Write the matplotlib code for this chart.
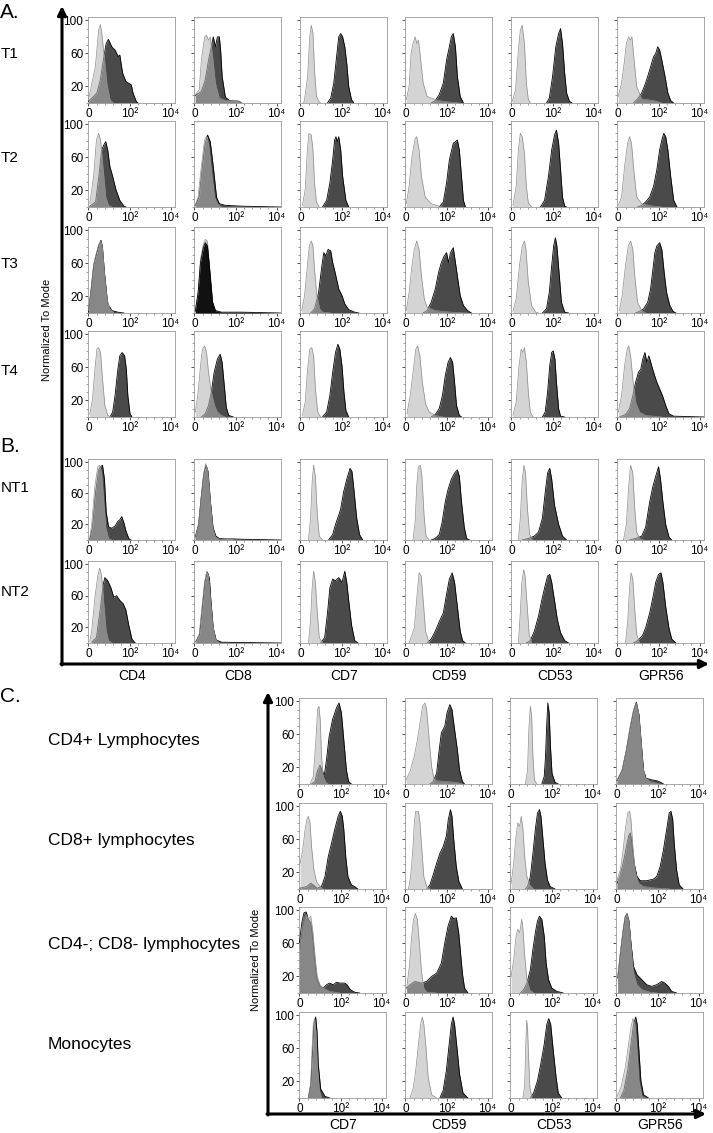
import matplotlib
matplotlib.use("Agg")
import matplotlib.pyplot as plt
from matplotlib.patches import FancyArrowPatch

plt.rcParams['font.family'] = ['Liberation Sans', 'DejaVu Sans']

markers_ab = ["CD4", "CD8", "CD7", "CD59", "CD53", "GPR56"]
rows_ab = ["T1", "T2", "T3", "T4", "NT1", "NT2"]
markers_c = ["CD7", "CD59", "CD53", "GPR56"]
rows_c = ["CD4+ Lymphocytes", "CD8+ lymphocytes", "CD4-; CD8- lymphocytes", "Monocytes"]

x_tick_pos = [0, 1.9, 3.8]
x_tick_labels = ["0", "10²", "10⁴"]
y_ticks = [20, 60, 100]

# histogram outlines: (display position, % of mode)
# one curve per marker column, isotype control and stained sample
T1_iso = [
    [(0, 4), (0.32, 44), (0.47, 88), (0.55, 95), (0.62, 84), (0.73, 56), (0.85, 24), (1.0, 4), (1.15, 0)],
    [(0.04, 10), (0.22, 16), (0.32, 52), (0.47, 80), (0.56, 82), (0.65, 76), (0.73, 80), (0.84, 56), (0.97, 24), (1.15, 6), (1.43, 3), (1.99, 3), (2.18, 0)],
    [(0.15, 0), (0.19, 4), (0.33, 32), (0.43, 80), (0.5, 94), (0.58, 84), (0.65, 40), (0.74, 8), (0.87, 1), (0.95, 0)],
    [(0.04, 4), (0.17, 20), (0.26, 60), (0.35, 72), (0.45, 80), (0.52, 72), (0.6, 76), (0.69, 56), (0.82, 24), (1.0, 8), (1.38, 4), (1.75, 2), (2.49, 0)],
    [(0.04, 2), (0.19, 16), (0.32, 64), (0.41, 88), (0.5, 94), (0.6, 72), (0.69, 24), (0.78, 4), (0.87, 0)],
    [(0.04, 8), (0.19, 24), (0.33, 52), (0.41, 72), (0.52, 80), (0.6, 76), (0.67, 80), (0.74, 60), (0.89, 20), (1.12, 5), (1.67, 3), (2.05, 0)],
]
T1_stain = [
    [(0, 2), (0.39, 12), (0.55, 28), (0.7, 54), (0.82, 72), (0.92, 77), (1.08, 68), (1.23, 64), (1.38, 56), (1.45, 58), (1.58, 36), (1.73, 26), (1.98, 22), (2.06, 12), (2.21, 2), (2.29, 0)],
    [(0.04, 9), (0.32, 14), (0.5, 28), (0.65, 52), (0.78, 68), (0.87, 80), (0.97, 68), (1.06, 80), (1.15, 80), (1.21, 64), (1.28, 32), (1.43, 7), (1.62, 3), (2.08, 2), (2.18, 0)],
    [(1.25, 0), (1.4, 6), (1.54, 24), (1.67, 56), (1.77, 80), (1.86, 84), (1.95, 80), (2.05, 68), (2.14, 48), (2.23, 20), (2.36, 4), (2.47, 0)],
    [(1.19, 0), (1.38, 3), (1.56, 10), (1.75, 24), (1.9, 52), (2.03, 68), (2.12, 80), (2.21, 84), (2.31, 68), (2.4, 32), (2.53, 8), (2.68, 0)],
    [(1.62, 0), (1.75, 6), (1.9, 32), (2.05, 68), (2.18, 84), (2.27, 90), (2.36, 72), (2.46, 36), (2.55, 12), (2.68, 2), (2.8, 0)],
    [(0.74, 0), (0.93, 5), (1.12, 12), (1.3, 24), (1.49, 40), (1.67, 56), (1.77, 60), (1.86, 68), (1.95, 64), (2.05, 52), (2.2, 32), (2.33, 12), (2.46, 3), (2.6, 0)],
]
T2_iso = [
    [(0.06, 4), (0.24, 37), (0.37, 81), (0.47, 89), (0.56, 81), (0.67, 49), (0.8, 12), (0.93, 2), (1.08, 0)],
    [(0.04, 2), (0.17, 12), (0.32, 49), (0.47, 81), (0.56, 86), (0.65, 77), (0.78, 45), (0.93, 12), (1.06, 4), (1.25, 0)],
    [(0.09, 2), (0.22, 21), (0.32, 69), (0.39, 89), (0.5, 87), (0.58, 69), (0.65, 29), (0.74, 6), (0.87, 0)],
    [(0.04, 4), (0.17, 25), (0.3, 61), (0.45, 83), (0.52, 85), (0.63, 69), (0.74, 37), (0.91, 12), (1.19, 4), (1.56, 1), (1.75, 0)],
    [(0.07, 2), (0.22, 25), (0.32, 69), (0.41, 89), (0.5, 85), (0.6, 65), (0.69, 25), (0.78, 5), (0.93, 0)],
    [(0.04, 2), (0.19, 12), (0.33, 49), (0.47, 77), (0.56, 85), (0.65, 77), (0.74, 49), (0.89, 12), (1.12, 4), (1.67, 1), (2.05, 0)],
]
T2_stain = [
    [(0.06, 1), (0.33, 6), (0.48, 37), (0.61, 69), (0.71, 75), (0.8, 79), (0.89, 69), (0.99, 49), (1.12, 37), (1.27, 21), (1.45, 8), (1.64, 1), (1.73, 0)],
    [(0.04, 2), (0.22, 12), (0.37, 49), (0.5, 77), (0.61, 87), (0.73, 79), (0.87, 49), (1.02, 12), (1.15, 4), (1.43, 2), (2.18, 1), (3.98, 0)],
    [(1.02, 0), (1.21, 8), (1.36, 29), (1.49, 57), (1.58, 81), (1.64, 85), (1.71, 79), (1.77, 85), (1.86, 69), (1.95, 37), (2.1, 8), (2.23, 0)],
    [(1.56, 0), (1.75, 6), (1.9, 29), (2.03, 57), (2.21, 77), (2.4, 81), (2.49, 69), (2.59, 37), (2.68, 8), (2.77, 0)],
    [(1.34, 0), (1.53, 8), (1.71, 37), (1.86, 69), (1.99, 87), (2.08, 93), (2.18, 77), (2.27, 45), (2.36, 12), (2.46, 1), (2.55, 0)],
    [(0.93, 0), (1.12, 2), (1.3, 6), (1.49, 12), (1.67, 25), (1.82, 45), (1.95, 69), (2.05, 81), (2.14, 89), (2.23, 85), (2.33, 69), (2.46, 37), (2.6, 8), (2.75, 0)],
]
T3_iso = [
    [(0, 3), (0.11, 25), (0.24, 59), (0.37, 73), (0.48, 83), (0.58, 87), (0.65, 77), (0.74, 45), (0.86, 17), (0.99, 5), (1.17, 0)],
    [(0.04, 3), (0.17, 25), (0.28, 65), (0.41, 83), (0.5, 89), (0.6, 87), (0.69, 57), (0.8, 17), (0.93, 3), (1.06, 0)],
    [(0.06, 3), (0.19, 21), (0.32, 57), (0.41, 81), (0.5, 87), (0.58, 81), (0.65, 53), (0.76, 21), (0.89, 5), (1.02, 1), (1.4, 0)],
    [(0.04, 3), (0.17, 25), (0.3, 57), (0.41, 77), (0.52, 87), (0.63, 77), (0.74, 45), (0.87, 17), (1.0, 7), (1.38, 3), (2.12, 1), (2.87, 0)],
    [(0.07, 2), (0.22, 17), (0.37, 57), (0.5, 81), (0.6, 87), (0.67, 77), (0.78, 37), (0.93, 9), (1.12, 1), (1.25, 0)],
    [(0.09, 3), (0.22, 21), (0.37, 57), (0.5, 81), (0.61, 87), (0.71, 77), (0.8, 45), (0.93, 13), (1.12, 3), (1.3, 0)],
]
T3_stain = [
    [(0, 1), (0.11, 25), (0.24, 57), (0.37, 71), (0.48, 82), (0.58, 88), (0.65, 79), (0.74, 49), (0.89, 11), (1.08, 3), (1.36, 1), (1.64, 0)],
    [(0.04, 2), (0.17, 25), (0.28, 61), (0.41, 79), (0.5, 85), (0.6, 81), (0.69, 57), (0.84, 13), (0.97, 3), (1.25, 1), (2.18, 1), (3.98, 0)],
    [(0.47, 0), (0.65, 5), (0.84, 25), (0.99, 57), (1.08, 73), (1.17, 69), (1.28, 77), (1.4, 75), (1.49, 61), (1.62, 47), (1.77, 29), (1.92, 21), (2.05, 11), (2.23, 4), (2.51, 1), (2.7, 0)],
    [(0.82, 0), (1.0, 3), (1.19, 13), (1.38, 29), (1.53, 49), (1.66, 61), (1.79, 69), (1.9, 73), (1.99, 61), (2.08, 73), (2.21, 79), (2.31, 61), (2.42, 41), (2.53, 21), (2.68, 9), (2.87, 3), (3.05, 0)],
    [(1.43, 0), (1.62, 5), (1.75, 25), (1.86, 57), (1.95, 81), (2.03, 91), (2.1, 81), (2.2, 49), (2.31, 13), (2.46, 1), (2.64, 0)],
    [(0.84, 0), (1.02, 2), (1.21, 5), (1.4, 13), (1.53, 29), (1.64, 53), (1.73, 73), (1.82, 81), (1.95, 85), (2.05, 77), (2.16, 49), (2.27, 25), (2.42, 9), (2.57, 2), (2.7, 0)],
]
T4_iso = [
    [(0.06, 3), (0.19, 22), (0.3, 58), (0.39, 82), (0.47, 84), (0.56, 78), (0.65, 46), (0.76, 14), (0.89, 2), (1.04, 0)],
    [(0.04, 6), (0.17, 30), (0.28, 62), (0.37, 82), (0.47, 86), (0.56, 78), (0.65, 54), (0.78, 30), (0.93, 14), (1.06, 6), (1.25, 2), (1.43, 0)],
    [(0.09, 2), (0.22, 18), (0.33, 58), (0.43, 82), (0.52, 84), (0.61, 74), (0.69, 34), (0.8, 6), (0.93, 0)],
    [(0.07, 4), (0.22, 26), (0.37, 58), (0.48, 82), (0.56, 86), (0.67, 74), (0.78, 42), (0.93, 16), (1.1, 6), (1.38, 2), (1.75, 0)],
    [(0.07, 2), (0.22, 18), (0.35, 62), (0.45, 82), (0.52, 78), (0.6, 84), (0.69, 66), (0.78, 30), (0.87, 6), (1.0, 0)],
    [(0.04, 6), (0.19, 26), (0.33, 62), (0.45, 82), (0.52, 86), (0.61, 74), (0.71, 46), (0.84, 18), (1.02, 6), (1.3, 2), (2.05, 0)],
]
T4_stain = [
    [(0.99, 0), (1.12, 6), (1.23, 26), (1.36, 58), (1.45, 74), (1.56, 78), (1.67, 74), (1.75, 58), (1.82, 26), (1.92, 4), (2.01, 0)],
    [(0.32, 0), (0.5, 4), (0.65, 14), (0.78, 30), (0.91, 54), (1.06, 70), (1.19, 76), (1.28, 66), (1.38, 38), (1.47, 12), (1.58, 2), (1.8, 0)],
    [(1.02, 0), (1.21, 6), (1.36, 26), (1.49, 54), (1.62, 78), (1.73, 88), (1.82, 82), (1.92, 62), (2.01, 30), (2.1, 8), (2.23, 0)],
    [(1.19, 0), (1.38, 3), (1.56, 10), (1.71, 26), (1.84, 50), (1.97, 66), (2.08, 72), (2.18, 66), (2.27, 42), (2.36, 14), (2.49, 2), (2.59, 0)],
    [(1.43, 0), (1.56, 6), (1.67, 30), (1.77, 62), (1.86, 78), (1.93, 80), (2.01, 70), (2.08, 42), (2.18, 10), (2.27, 1), (2.46, 0)],
    [(0.09, 0), (0.37, 3), (0.56, 10), (0.71, 26), (0.84, 42), (0.97, 54), (1.08, 58), (1.17, 70), (1.27, 78), (1.36, 66), (1.45, 74), (1.54, 66), (1.67, 54), (1.82, 42), (1.95, 34), (2.08, 26), (2.23, 14), (2.38, 4), (2.6, 1), (4.0, 0)],
]
NT1_iso = [
    [(0.06, 2), (0.15, 20), (0.3, 69), (0.43, 94), (0.52, 96), (0.61, 86), (0.71, 49), (0.8, 16), (0.93, 2), (1.08, 0)],
    [(0.04, 2), (0.19, 20), (0.32, 57), (0.43, 86), (0.52, 98), (0.61, 90), (0.73, 49), (0.84, 16), (0.97, 4), (1.15, 1), (1.43, 2), (1.66, 2), (1.8, 0)],
    [(0.37, 0), (0.47, 28), (0.54, 74), (0.61, 96), (0.69, 82), (0.78, 32), (0.87, 5), (1.02, 0)],
    [(0.35, 0), (0.45, 24), (0.52, 69), (0.6, 94), (0.69, 96), (0.76, 82), (0.86, 32), (0.95, 5), (1.1, 0)],
    [(0.32, 0), (0.41, 28), (0.5, 78), (0.58, 96), (0.65, 86), (0.74, 40), (0.84, 7), (0.97, 0)],
    [(0.28, 0), (0.41, 20), (0.52, 69), (0.61, 96), (0.71, 86), (0.8, 40), (0.89, 10), (1.02, 2), (1.21, 0)],
]
NT1_stain = [
    [(0.06, 1), (0.19, 16), (0.33, 61), (0.47, 90), (0.56, 94), (0.65, 96), (0.74, 78), (0.82, 36), (0.93, 17), (1.08, 15), (1.23, 18), (1.36, 24), (1.45, 26), (1.54, 30), (1.64, 22), (1.73, 12), (1.86, 2), (1.97, 0)],
    [(0.04, 4), (0.19, 20), (0.32, 57), (0.43, 84), (0.54, 96), (0.63, 88), (0.74, 49), (0.86, 16), (0.99, 5), (1.15, 2), (2.18, 1), (3.98, 0)],
    [(1.3, 0), (1.49, 7), (1.62, 20), (1.77, 32), (1.86, 40), (1.99, 61), (2.14, 78), (2.29, 92), (2.38, 88), (2.47, 65), (2.6, 28), (2.73, 7), (2.88, 0)],
    [(1.19, 0), (1.38, 2), (1.56, 7), (1.69, 22), (1.84, 49), (1.97, 65), (2.12, 78), (2.27, 86), (2.4, 90), (2.49, 82), (2.59, 49), (2.72, 16), (2.83, 2), (2.96, 0)],
    [(0.5, 0), (0.78, 2), (1.06, 5), (1.25, 10), (1.43, 28), (1.56, 61), (1.67, 86), (1.77, 92), (1.86, 78), (1.99, 45), (2.18, 20), (2.36, 5), (2.55, 0)],
    [(0.56, 0), (0.84, 2), (1.12, 5), (1.3, 16), (1.49, 49), (1.64, 69), (1.77, 82), (1.9, 94), (1.99, 78), (2.1, 49), (2.23, 20), (2.38, 4), (2.51, 0)],
]
NT2_iso = [
    [(0.06, 2), (0.15, 15), (0.3, 58), (0.43, 85), (0.52, 95), (0.61, 85), (0.71, 50), (0.82, 15), (0.93, 3), (1.08, 0)],
    [(0.04, 1), (0.22, 11), (0.35, 46), (0.47, 77), (0.56, 91), (0.65, 85), (0.73, 58), (0.84, 23), (0.97, 5), (1.15, 0)],
    [(0.37, 0), (0.47, 30), (0.54, 70), (0.61, 91), (0.69, 77), (0.78, 38), (0.87, 7), (1.02, 0)],
    [(0.17, 0), (0.41, 19), (0.54, 62), (0.63, 89), (0.73, 85), (0.82, 54), (0.93, 15), (1.1, 0)],
    [(0.32, 0), (0.41, 38), (0.48, 77), (0.57, 93), (0.63, 85), (0.73, 46), (0.82, 11), (0.93, 0)],
    [(0.37, 0), (0.48, 30), (0.56, 70), (0.63, 89), (0.71, 81), (0.8, 42), (0.89, 11), (1.02, 0)],
]
NT2_stain = [
    [(0.15, 1), (0.37, 7), (0.56, 46), (0.67, 73), (0.76, 83), (0.89, 79), (1.04, 70), (1.17, 58), (1.3, 60), (1.45, 54), (1.6, 50), (1.73, 42), (1.86, 23), (2.01, 5), (2.16, 0)],
    [(0.07, 2), (0.24, 11), (0.37, 46), (0.48, 77), (0.6, 90), (0.69, 82), (0.76, 54), (0.87, 19), (1.0, 4), (1.25, 1), (3.98, 0)],
    [(0.93, 0), (1.12, 7), (1.25, 38), (1.36, 70), (1.49, 81), (1.62, 79), (1.77, 83), (1.92, 77), (2.05, 91), (2.14, 77), (2.23, 54), (2.36, 23), (2.51, 3), (2.66, 0)],
    [(1.0, 0), (1.19, 5), (1.38, 15), (1.56, 27), (1.75, 38), (1.9, 62), (2.03, 81), (2.16, 89), (2.27, 77), (2.4, 46), (2.53, 15), (2.64, 3), (2.77, 0)],
    [(0.69, 0), (0.87, 3), (1.06, 15), (1.25, 34), (1.43, 58), (1.56, 73), (1.67, 85), (1.77, 87), (1.86, 77), (1.99, 54), (2.12, 30), (2.27, 13), (2.46, 3), (2.64, 0)],
    [(0.74, 0), (0.93, 3), (1.15, 9), (1.3, 19), (1.49, 38), (1.64, 58), (1.77, 77), (1.9, 87), (2.01, 89), (2.1, 77), (2.23, 46), (2.38, 19), (2.51, 5), (2.7, 0)],
]

CD4pos_iso = [
    [(0.49, 0), (0.64, 9), (0.76, 53), (0.84, 90), (0.9, 94), (0.96, 78), (1.02, 33), (1.1, 9), (1.22, 2), (1.33, 0)],
    [(0.03, 5), (0.21, 15), (0.4, 33), (0.55, 53), (0.7, 78), (0.79, 94), (0.9, 98), (0.98, 90), (1.1, 53), (1.21, 21), (1.31, 7), (1.44, 4), (1.89, 3), (2.35, 2), (2.66, 0)],
    [(0.69, 0), (0.79, 17), (0.85, 66), (0.92, 94), (0.98, 82), (1.04, 33), (1.11, 5), (1.22, 0)],
    [(0.03, 5), (0.26, 17), (0.46, 41), (0.61, 66), (0.79, 90), (0.92, 98), (1.02, 86), (1.13, 53), (1.22, 21), (1.33, 8), (1.56, 3), (1.86, 1), (2.02, 0)],
]
CD4pos_stain = [
    [(0.56, 0), (0.72, 3), (0.82, 15), (0.95, 23), (1.04, 17), (1.15, 11), (1.25, 29), (1.37, 57), (1.53, 78), (1.71, 92), (1.83, 98), (1.94, 86), (2.05, 53), (2.17, 17), (2.27, 3), (2.4, 0)],
    [(1.13, 0), (1.28, 3), (1.44, 13), (1.56, 41), (1.66, 62), (1.82, 70), (1.92, 86), (2.05, 96), (2.15, 90), (2.27, 66), (2.4, 41), (2.5, 17), (2.63, 3), (2.73, 0)],
    [(1.45, 0), (1.56, 9), (1.62, 33), (1.68, 74), (1.73, 98), (1.79, 86), (1.85, 45), (1.92, 13), (2.06, 2), (2.21, 0)],
    [(0.03, 4), (0.26, 16), (0.46, 41), (0.61, 64), (0.79, 88), (0.92, 99), (1.04, 84), (1.15, 49), (1.25, 17), (1.37, 7), (1.63, 5), (1.86, 4), (2.05, 2), (2.17, 0)],
]
CD8pos_iso = [
    [(0.03, 31), (0.15, 47), (0.26, 72), (0.34, 84), (0.41, 88), (0.49, 80), (0.56, 51), (0.67, 23), (0.79, 9), (0.95, 3), (1.1, 0)],
    [(0.14, 0), (0.24, 15), (0.34, 47), (0.41, 80), (0.47, 94), (0.6, 94), (0.67, 80), (0.76, 47), (0.85, 15), (0.98, 3), (1.13, 0)],
    [(0.03, 7), (0.15, 31), (0.24, 60), (0.34, 80), (0.43, 76), (0.5, 88), (0.58, 72), (0.66, 39), (0.76, 15), (0.89, 5), (1.07, 0)],
    [(0.03, 11), (0.18, 23), (0.31, 47), (0.41, 72), (0.52, 92), (0.61, 94), (0.67, 84), (0.76, 51), (0.87, 21), (1.02, 7), (1.25, 3), (1.86, 1), (2.47, 0)],
]
CD8pos_stain = [
    [(0.03, 1), (0.34, 3), (0.52, 7), (0.64, 5), (0.82, 1), (1.02, 3), (1.18, 15), (1.33, 39), (1.48, 55), (1.63, 72), (1.79, 88), (1.89, 94), (1.98, 88), (2.05, 72), (2.14, 39), (2.24, 15), (2.4, 5), (2.55, 3), (2.7, 0)],
    [(0.98, 0), (1.13, 5), (1.28, 17), (1.44, 31), (1.59, 43), (1.74, 51), (1.89, 64), (1.98, 84), (2.08, 96), (2.15, 88), (2.23, 60), (2.35, 27), (2.47, 9), (2.63, 0)],
    [(0.69, 0), (0.79, 3), (0.92, 15), (1.04, 43), (1.15, 72), (1.25, 92), (1.34, 96), (1.41, 88), (1.49, 64), (1.6, 31), (1.71, 11), (1.83, 3), (2.06, 0)],
    [(0.03, 7), (0.18, 17), (0.34, 35), (0.46, 51), (0.56, 64), (0.64, 68), (0.72, 55), (0.82, 31), (0.95, 15), (1.1, 10), (1.4, 10), (1.71, 12), (1.86, 15), (2.02, 27), (2.17, 47), (2.32, 72), (2.44, 92), (2.52, 94), (2.6, 84), (2.67, 55), (2.78, 23), (2.9, 5), (3.08, 0)],
]
DN_iso = [
    [(0, 53), (0.11, 77), (0.21, 89), (0.31, 95), (0.41, 89), (0.52, 93), (0.61, 77), (0.72, 45), (0.82, 20), (0.95, 10), (1.1, 6), (1.4, 2), (1.86, 0)],
    [(0.06, 6), (0.18, 32), (0.29, 69), (0.37, 89), (0.46, 96), (0.55, 89), (0.64, 61), (0.75, 24), (0.85, 6), (0.98, 1), (1.44, 0)],
    [(0.03, 20), (0.15, 40), (0.26, 69), (0.34, 77), (0.43, 73), (0.52, 89), (0.58, 77), (0.66, 45), (0.76, 16), (0.89, 4), (1.07, 0)],
    [(0.06, 20), (0.18, 49), (0.31, 77), (0.4, 93), (0.49, 95), (0.58, 85), (0.67, 57), (0.79, 24), (0.95, 10), (1.18, 4), (1.56, 1), (1.86, 0)],
]
DN_stain = [
    [(0, 61), (0.11, 85), (0.21, 97), (0.31, 98), (0.41, 89), (0.52, 85), (0.61, 69), (0.72, 36), (0.82, 16), (0.95, 8), (1.1, 6), (1.25, 10), (1.4, 12), (1.56, 10), (1.71, 13), (1.86, 12), (2.09, 12), (2.2, 10), (2.35, 4), (2.55, 1), (2.78, 0)],
    [(0.06, 6), (0.21, 10), (0.44, 14), (0.75, 12), (0.98, 14), (1.21, 20), (1.44, 24), (1.66, 36), (1.82, 61), (1.97, 81), (2.12, 93), (2.23, 90), (2.35, 91), (2.46, 73), (2.53, 53), (2.63, 24), (2.73, 6), (2.89, 0)],
    [(0.46, 0), (0.61, 4), (0.76, 12), (0.92, 28), (1.04, 53), (1.15, 73), (1.25, 87), (1.34, 93), (1.45, 89), (1.56, 69), (1.65, 36), (1.76, 16), (1.91, 6), (2.14, 2), (2.44, 0)],
    [(0.06, 18), (0.18, 47), (0.31, 75), (0.4, 91), (0.49, 96), (0.58, 87), (0.67, 61), (0.79, 32), (0.95, 22), (1.18, 16), (1.4, 10), (1.63, 8), (1.86, 10), (2.09, 14), (2.24, 12), (2.4, 8), (2.55, 2), (2.78, 0)],
]
Mono_iso = [
    [(0.41, 0), (0.52, 17), (0.58, 57), (0.64, 89), (0.7, 96), (0.76, 81), (0.82, 41), (0.92, 9), (1.02, 0)],
    [(0.21, 0), (0.37, 13), (0.49, 37), (0.6, 65), (0.7, 89), (0.78, 98), (0.85, 89), (0.95, 61), (1.05, 25), (1.21, 4), (1.44, 0)],
    [(0.58, 0), (0.66, 17), (0.7, 57), (0.75, 94), (0.79, 85), (0.84, 49), (0.9, 13), (0.99, 0)],
    [(0.03, 2), (0.21, 13), (0.41, 37), (0.56, 65), (0.67, 85), (0.76, 96), (0.86, 89), (0.95, 57), (1.04, 21), (1.18, 2), (1.33, 0)],
]
Mono_stain = [
    [(0.41, 0), (0.53, 17), (0.61, 57), (0.67, 89), (0.75, 98), (0.81, 81), (0.87, 41), (0.98, 11), (1.18, 2), (1.4, 0)],
    [(1.59, 0), (1.74, 9), (1.89, 33), (2.02, 65), (2.12, 89), (2.2, 98), (2.27, 89), (2.38, 61), (2.5, 29), (2.66, 6), (2.89, 0)],
    [(0.92, 0), (1.07, 6), (1.25, 21), (1.4, 41), (1.56, 65), (1.68, 89), (1.77, 96), (1.86, 89), (1.98, 57), (2.11, 25), (2.21, 6), (2.37, 0)],
    [(0.18, 0), (0.34, 9), (0.52, 33), (0.67, 65), (0.79, 89), (0.89, 98), (0.96, 89), (1.04, 57), (1.13, 21), (1.25, 4), (1.48, 0)],
]

iso_ab = [T1_iso, T2_iso, T3_iso, T4_iso, NT1_iso, NT2_iso]
stain_ab = [T1_stain, T2_stain, T3_stain, T4_stain, NT1_stain, NT2_stain]
iso_c = [CD4pos_iso, CD8pos_iso, DN_iso, Mono_iso]
stain_c = [CD4pos_stain, CD8pos_stain, DN_stain, Mono_stain]

# panels where the stained histogram was printed on top in near-black
stain_on_top = [("T3", "CD8")]

W, H = 713, 1133
fig = plt.figure(figsize=(W / 100, H / 100), dpi=100)


def px_axes(left, top, width, height):
    return fig.add_axes([left / W, 1 - (top + height) / H, width / W, height / H])


def fig_text(x, y, s, **kw):
    fig.text(x / W, 1 - y / H, s, **kw)


def fig_arrow(x0, y0, x1, y1):
    fig.add_artist(FancyArrowPatch((x0 / W, 1 - y0 / H), (x1 / W, 1 - y1 / H),
                                   transform=fig.transFigure, arrowstyle='-|>',
                                   mutation_scale=13, lw=2.2, color='black',
                                   shrinkA=0, shrinkB=0))


def draw_hist(ax, iso, stain, show_y, on_top=False):
    xs, ys = zip(*stain)
    xi, yi = zip(*iso)
    if on_top:
        ax.fill_between(xi, yi, 0, color='#c8c8c8', lw=0, zorder=2)
        ax.plot(xi, yi, color='#8c8c8c', lw=0.5, zorder=3)
        ax.fill_between(xs, ys, 0, color='#111111', lw=0, zorder=4)
        ax.plot(xs, ys, color='black', lw=0.6, zorder=5)
    else:
        ax.fill_between(xs, ys, 0, color='#4a4a4a', lw=0, zorder=2)
        ax.plot(xs, ys, color='black', lw=0.6, zorder=3)
        ax.fill_between(xi, yi, 0, color='#b5b5b5', alpha=0.58, lw=0, zorder=4)
        ax.plot(xi, yi, color='#8c8c8c', lw=0.5, zorder=5)

    ax.set_xlim(-0.02, 4.0)
    ax.set_ylim(0, 104)
    ax.set_xticks(x_tick_pos)
    ax.set_xticklabels(x_tick_labels, fontsize=8.5)
    ax.set_yticks(y_ticks)
    ax.set_yticks(range(0, 105, 10), minor=True)
    minors = [d + m for d in (0, 1.9) for m in (0.38, 0.76, 1.14, 1.52)]
    ax.set_xticks(minors, minor=True)
    if show_y:
        ax.set_yticklabels([str(v) for v in y_ticks], fontsize=8.5)
    else:
        ax.set_yticklabels([])
    ax.tick_params(which='major', length=2.5, width=0.6, pad=1, color='#333333')
    ax.tick_params(which='minor', length=1.5, width=0.4, color='#555555')
    for sp in ax.spines.values():
        sp.set_color('#9a9a9a')
        sp.set_linewidth(0.6)


# panels A and B
col_left_ab = [88, 194, 300, 405, 511, 617]
row_top_ab = [17, 121, 227, 331, 459, 561]
row_h_ab = [86, 86, 86, 86, 81, 82]
for r in range(len(rows_ab)):
    for c in range(len(markers_ab)):
        ax = px_axes(col_left_ab[c], row_top_ab[r], 87, row_h_ab[r])
        draw_hist(ax, iso_ab[r][c], stain_ab[r][c], c == 0,
                  (rows_ab[r], markers_ab[c]) in stain_on_top)

# panel C
col_left_c = [299, 405, 510, 616]
row_top_c = [698, 803, 907, 1012]
for r in range(len(rows_c)):
    for c in range(len(markers_c)):
        ax = px_axes(col_left_c[c], row_top_c[r], 87, 86)
        draw_hist(ax, iso_c[r][c], stain_c[r][c], c == 0)

# big axis arrows
fig_arrow(62, 665, 62, 6)
fig_arrow(61, 664, 709, 664)
fig_arrow(268, 1115, 268, 692)
fig_arrow(267, 1114, 706, 1114)

fig_text(47, 330, "Normalized To Mode", rotation=90, fontsize=8, ha='center', va='center')
fig_text(256, 960, "Normalized To Mode", rotation=90, fontsize=8, ha='center', va='center')

for c, m in enumerate(markers_ab):
    fig_text(col_left_ab[c] + 44, 676, m, fontsize=10, ha='center', va='center')
for c, m in enumerate(markers_c):
    fig_text(col_left_c[c] + 44, 1125, m, fontsize=10, ha='center', va='center')

fig_text(0, 12, "A.", fontsize=15, va='center')
fig_text(0, 447, "B.", fontsize=15, va='center')
fig_text(0, 697, "C.", fontsize=15, va='center')
row_label_y = [54, 158, 264, 371, 488, 592]
for r, lab in enumerate(rows_ab):
    fig_text(1, row_label_y[r], lab, fontsize=11, va='center')
row_label_y_c = [740, 840, 945, 1045]
for r, lab in enumerate(rows_c):
    fig_text(48, row_label_y_c[r], lab, fontsize=12.5, va='center')

fig.savefig("out.png", dpi=100)
